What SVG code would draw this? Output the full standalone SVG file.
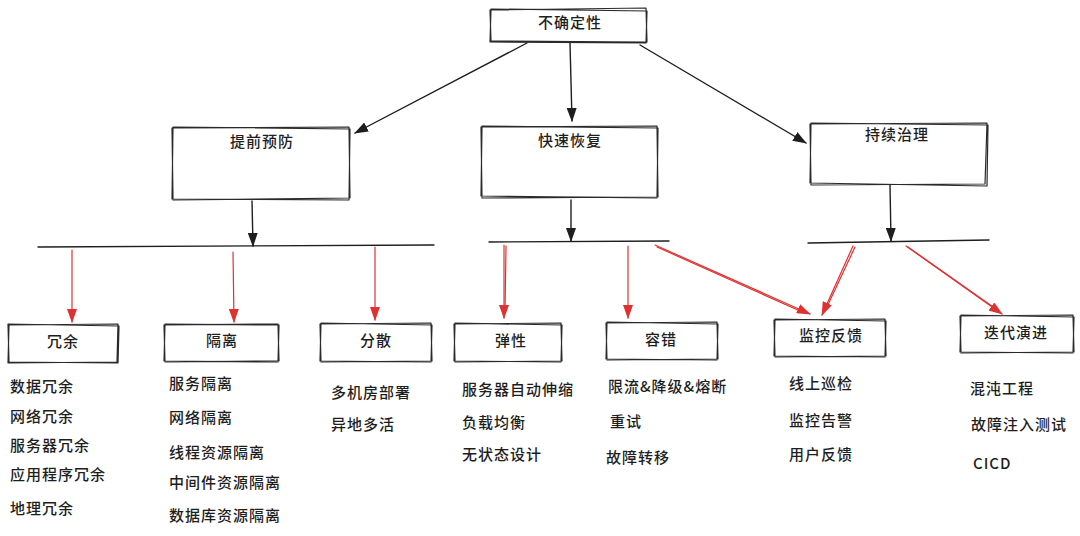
<svg xmlns="http://www.w3.org/2000/svg" width="1080" height="536" viewBox="0 0 1080 536">
<defs>
<style>
.bx{fill:none;stroke:#2a2a2a;stroke-width:1.2;stroke-linejoin:round}
.ln{fill:none;stroke:#1e1e1e;stroke-width:1.4;stroke-linecap:round}
.rd{fill:none;stroke:#e03131;stroke-width:1.2;stroke-linecap:round}
.t{font-family:"Noto Sans CJK SC","Noto Sans",sans-serif;font-size:15px;font-weight:500;fill:#1e1e1e;letter-spacing:1px}
.c{text-anchor:middle}
</style>
<marker id="ab" viewBox="0 0 14 10" refX="13" refY="5" markerWidth="14" markerHeight="10" orient="auto" markerUnits="userSpaceOnUse"><path d="M0 0 L14 5 L0 10 Z" fill="#1e1e1e"/></marker>
<marker id="ar" viewBox="0 0 14 10" refX="13" refY="5" markerWidth="14" markerHeight="10" orient="auto" markerUnits="userSpaceOnUse"><path d="M0 0 L14 5 L0 10 Z" fill="#e03131"/></marker>
</defs>
<rect width="1080" height="536" fill="#ffffff"/>

<g id="connectors">
<path class="ln" d="M527 43 L355 133" marker-end="url(#ab)"/>
<path class="ln" d="M570 43 L572 121" marker-end="url(#ab)"/>
<path class="ln" d="M640 45 L806 143" marker-end="url(#ab)"/>
<path class="ln" d="M252 201 L253 246" marker-end="url(#ab)"/>
<path class="ln" d="M571 200 L571 241" marker-end="url(#ab)"/>
<path class="ln" d="M890 185 L891 241" marker-end="url(#ab)"/>
<path class="ln" d="M38 247 L434 245"/>
<path class="ln" d="M489 242 L669 241"/>
<path class="ln" d="M808 243 L989 240"/>
<path class="rd" d="M72 250 L72 322" marker-end="url(#ar)"/>
<path class="rd" d="M233 252 L234 322" marker-end="url(#ar)"/>
<path class="rd" d="M375 247 L375 320" marker-end="url(#ar)"/>
<path class="rd" d="M504 245 L504 318" marker-end="url(#ar)"/>
<path class="rd" d="M506 246 L505 312"/>
<path class="rd" d="M628 246 L628 318" marker-end="url(#ar)"/>
<path class="rd" d="M655 245 L810 314" marker-end="url(#ar)"/>
<path class="rd" d="M657 247 L800 311"/>
<path class="rd" d="M853 246 L822 315" marker-end="url(#ar)"/>
<path class="rd" d="M855 247 L826 309"/>
<path class="rd" d="M906 246 L1002 314" marker-end="url(#ar)"/>
<path class="rd" d="M908 247 L996 309"/>
</g>

<g id="n-root">
<path class="bx" d="M490 10 L646 8 L647 42 L491 41 Z M491 9 L647 11 L646 43 L490 42 Z"/>
<text class="t c" x="570" y="28">不确定性</text>
</g>

<g id="n-prevent">
<path class="bx" d="M172 128 L349 127 L350 198 L173 200 Z M173 127 L350 129 L349 200 L172 199 Z"/>
<text class="t c" x="262" y="147">提前预防</text>
</g>

<g id="n-recover">
<path class="bx" d="M481 127 L657 126 L658 197 L482 198 Z M482 126 L658 128 L657 198 L481 196 Z"/>
<text class="t c" x="570" y="146">快速恢复</text>
</g>

<g id="n-govern">
<path class="bx" d="M810 124 L987 123 L985 184 L811 185 Z M811 123 L988 125 L987 186 L810 183 Z"/>
<text class="t c" x="897" y="140">持续治理</text>
</g>

<g id="n-redundancy">
<path class="bx" d="M9 325 L118 324 L117 362 L8 363 Z M8 324 L119 326 L118 363 L9 362 Z"/>
<text class="t c" x="63" y="347">冗余</text>
<text class="t" x="10" y="392">数据冗余</text>
<text class="t" x="10" y="422">网络冗余</text>
<text class="t" x="10" y="451">服务器冗余</text>
<text class="t" x="10" y="480">应用程序冗余</text>
<text class="t" x="10" y="514">地理冗余</text>
</g>

<g id="n-isolation">
<path class="bx" d="M164 325 L278 324 L279 361 L165 362 Z M165 324 L279 325 L278 362 L164 361 Z"/>
<text class="t c" x="222" y="346">隔离</text>
<text class="t" x="169" y="389">服务隔离</text>
<text class="t" x="169" y="423">网络隔离</text>
<text class="t" x="169" y="458">线程资源隔离</text>
<text class="t" x="169" y="488">中间件资源隔离</text>
<text class="t" x="169" y="521">数据库资源隔离</text>
</g>

<g id="n-scatter">
<path class="bx" d="M320 324 L431 323 L432 361 L321 362 Z M321 323 L432 325 L431 362 L320 361 Z"/>
<text class="t c" x="376" y="346">分散</text>
<text class="t" x="331" y="398">多机房部署</text>
<text class="t" x="331" y="430">异地多活</text>
</g>

<g id="n-elastic">
<path class="bx" d="M454 324 L561 323 L562 361 L455 362 Z M455 323 L562 325 L561 362 L454 361 Z"/>
<text class="t c" x="511" y="346">弹性</text>
<text class="t" x="462" y="395">服务器自动伸缩</text>
<text class="t" x="462" y="428">负载均衡</text>
<text class="t" x="462" y="460">无状态设计</text>
</g>

<g id="n-fault">
<path class="bx" d="M606 323 L717 322 L718 359 L607 360 Z M607 322 L718 324 L717 360 L606 359 Z"/>
<text class="t c" x="661" y="345">容错</text>
<text class="t" x="608" y="392">限流&amp;降级&amp;熔断</text>
<text class="t" x="610" y="427">重试</text>
<text class="t" x="606" y="463">故障转移</text>
</g>

<g id="n-monitor">
<path class="bx" d="M774 320 L885 319 L886 356 L775 357 Z M775 319 L886 321 L885 357 L774 356 Z"/>
<text class="t c" x="831" y="341">监控反馈</text>
<text class="t" x="789" y="389">线上巡检</text>
<text class="t" x="789" y="426">监控告警</text>
<text class="t" x="789" y="460">用户反馈</text>
</g>

<g id="n-evolve">
<path class="bx" d="M960 316 L1073 315 L1074 352 L961 353 Z M961 315 L1074 317 L1073 353 L960 352 Z"/>
<text class="t c" x="1016" y="338">迭代演进</text>
<text class="t" x="970" y="394">混沌工程</text>
<text class="t" x="971" y="430">故障注入测试</text>
<text class="t" x="973" y="469">CICD</text>
</g>
</svg>
